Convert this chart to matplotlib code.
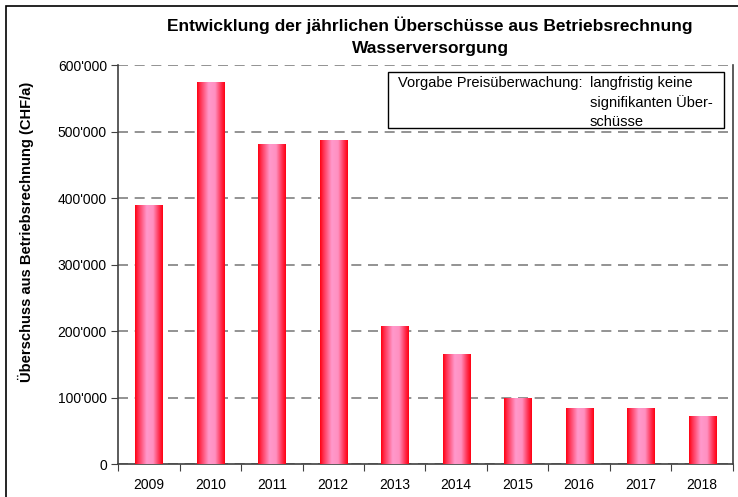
import matplotlib
matplotlib.use("Agg")
import matplotlib.pyplot as plt
import numpy as np
from matplotlib.colors import LinearSegmentedColormap
from matplotlib.ticker import FuncFormatter, MultipleLocator
from matplotlib.patches import Rectangle

years = ["2009", "2010", "2011", "2012", "2013", "2014", "2015", "2016", "2017", "2018"]
values = [388000, 574000, 481000, 486000, 206000, 164000, 99000, 84000, 84000, 71000]

title = "Entwicklung der jährlichen Überschüsse aus Betriebsrechnung\nWasserversorgung"
ylabel = "Überschuss aus Betriebsrechnung (CHF/a)"
note_left = "Vorgabe Preisüberwachung:"
note_right = ["langfristig keine", "signifikanten Über-", "schüsse"]

plt.rcParams['font.family'] = ['Liberation Sans', 'DejaVu Sans']

fig = plt.figure(figsize=(7.38, 4.97), dpi=100)
ax = fig.add_axes([0.160, 0.066, 0.833, 0.803])

x = np.arange(len(years))
width = 0.44
bars = ax.bar(x, values, width, color='none', edgecolor='none', zorder=3)

cmap = LinearSegmentedColormap.from_list(
    "barfill", [(0.0, "#ff0010"), (0.12, "#ff3050"), (0.42, "#ff99cc"),
                (0.65, "#ff90c0"), (0.88, "#ff2848"), (1.0, "#ff0010")])
grad = np.linspace(0, 1, 256).reshape(1, -1)
for b in bars:
    x0, y0 = b.get_x(), b.get_y()
    w, h = b.get_width(), b.get_height()
    ax.imshow(grad, cmap=cmap, aspect='auto', extent=[x0, x0 + w, y0, y0 + h],
              zorder=3, interpolation='bilinear')

ax.set_xlim(-0.5, len(years) - 0.5)
ax.set_ylim(0, 600000)

ax.yaxis.set_major_locator(MultipleLocator(100000))
ax.yaxis.set_major_formatter(FuncFormatter(lambda v, p: "0" if v == 0 else f"{int(v):,}".replace(",", "'")))
ax.yaxis.grid(True, color='#808080', linestyle=(0, (6, 4)), linewidth=1.2, zorder=1)
ax.set_axisbelow(True)

ax.set_xticks(np.arange(-0.5, len(years), 1.0))
ax.set_xticklabels([])
ax.set_xticks(x, minor=True)
ax.set_xticklabels(years, minor=True)
ax.tick_params(axis='x', which='major', length=5, direction='out', color='#404040')
ax.tick_params(axis='x', which='minor', length=0, pad=10, labelsize=10)
ax.tick_params(axis='y', length=5, direction='out', color='#404040', labelsize=10, pad=3)

for s in ['left', 'bottom', 'right']:
    ax.spines[s].set_color('#404040')
    ax.spines[s].set_linewidth(1.2)
ax.spines['top'].set_visible(False)

fig.text(26 / 738, 1 - 232 / 497, ylabel, rotation=90, ha='center', va='center',
         fontsize=10.6, fontweight='bold')

fig.text(0.583, 1 - 36 / 497, title, ha='center', va='center', fontsize=12.5,
         fontweight='bold', linespacing=1.55)

# note box
box = Rectangle((388 / 738, 1 - 128 / 497), (724 - 388) / 738, (128 - 72) / 497,
                transform=fig.transFigure, facecolor='white', edgecolor='black',
                linewidth=1.0, zorder=5)
fig.add_artist(box)
fig.text(398 / 738, 1 - 83 / 497, note_left, ha='left', va='center', fontsize=10.5, zorder=6)
for i, line in enumerate(note_right):
    fig.text(590 / 738, 1 - (83 + i * 19.5) / 497, line, ha='left', va='center',
             fontsize=10.5, zorder=6)

# outer border
border = Rectangle((6 / 738, -0.1), 1.2, 1 - 6 / 497 + 0.1, transform=fig.transFigure,
                   facecolor='none', edgecolor='black', linewidth=1.2, zorder=0)
fig.add_artist(border)

fig.savefig("out.png", dpi=100)
